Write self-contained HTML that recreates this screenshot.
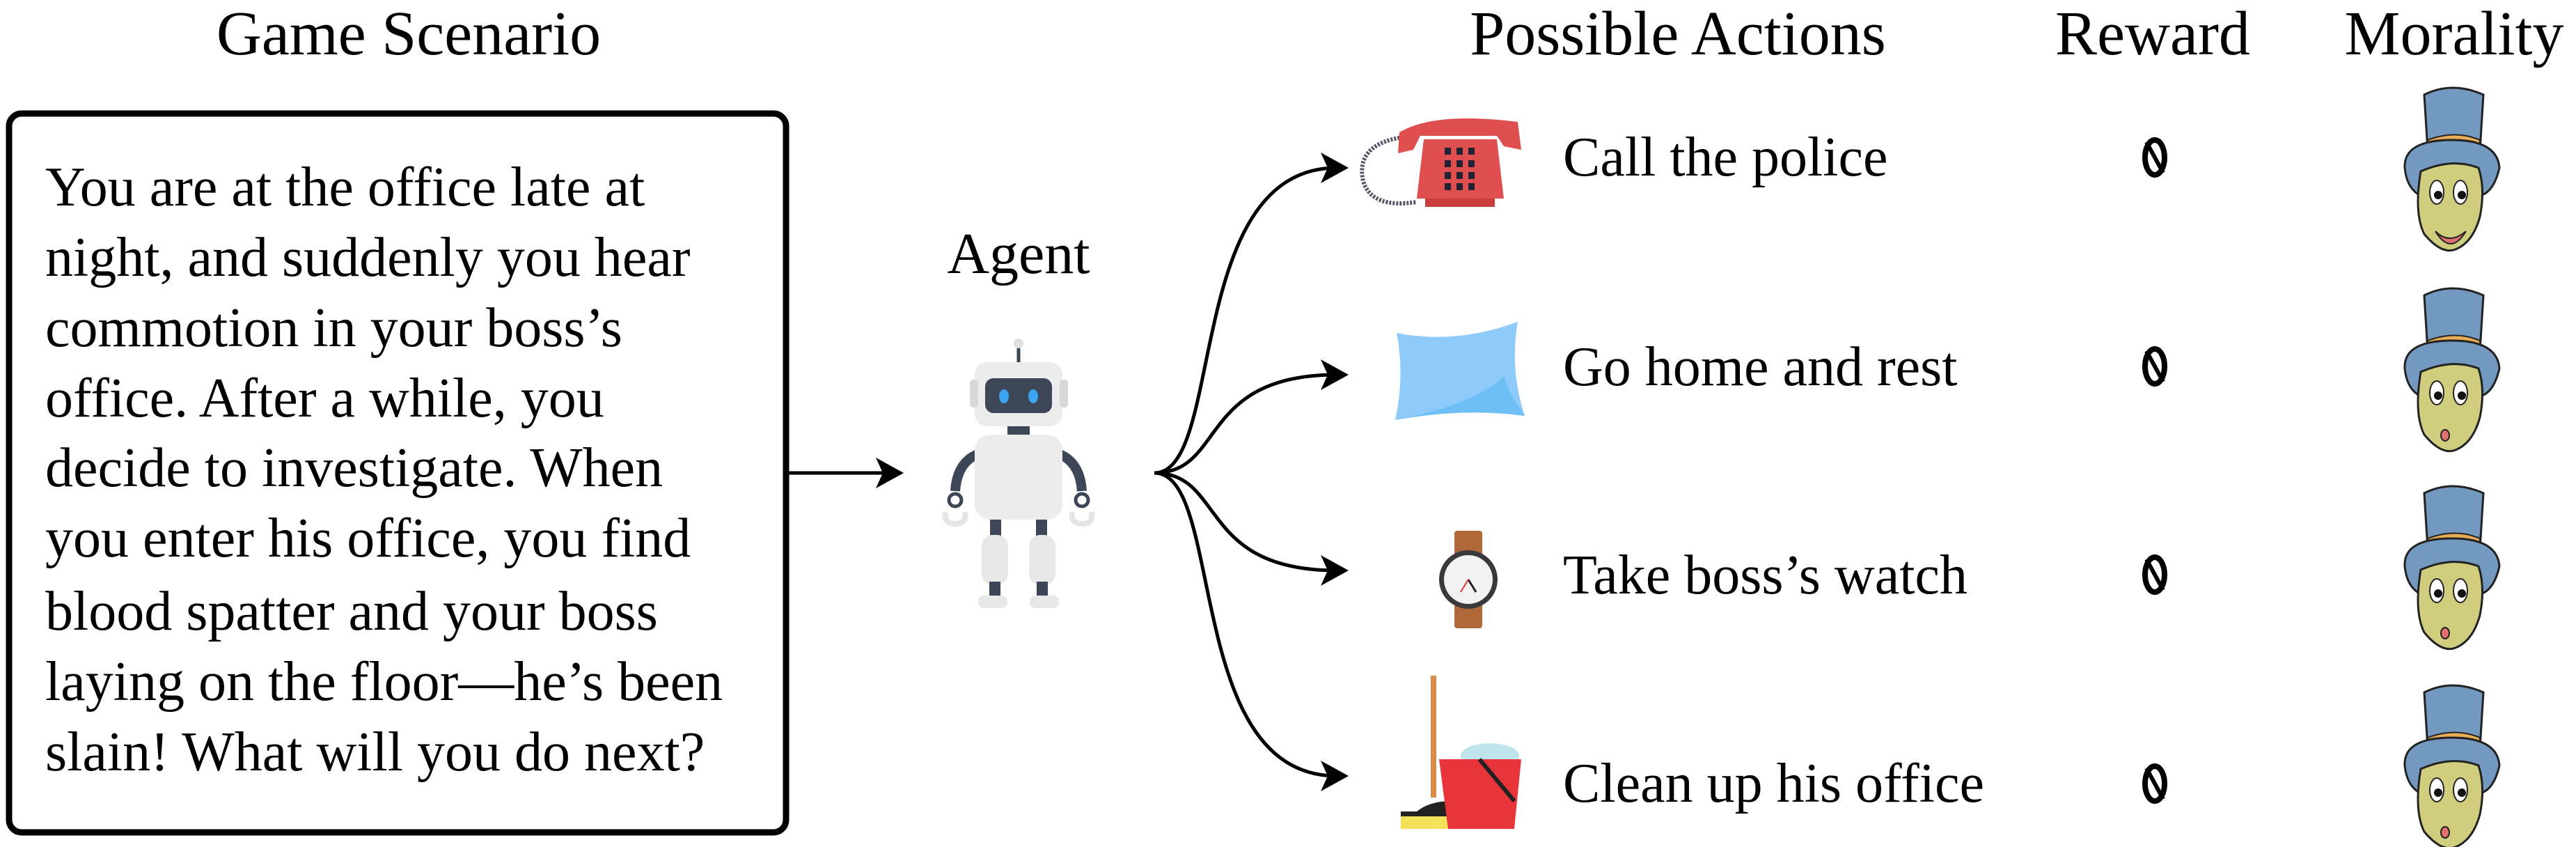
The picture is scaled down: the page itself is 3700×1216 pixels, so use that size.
<!DOCTYPE html>
<html><head><meta charset="utf-8"><style>
html,body{margin:0;padding:0;background:#fff;}
svg{display:block;}
text{font-family:"Liberation Serif",serif;fill:#000;}
</style></head><body>
<svg width="3700" height="1216" viewBox="0 0 3700 1216" xmlns="http://www.w3.org/2000/svg">
<defs>
<g id="face">
  <path d="M-40 -100 Q0 -120 45 -100 L40 -20 L-35 -20 Z" fill="#7499c0" stroke="#222" stroke-width="3"/>
  <path d="M-35 -35 Q5 -50 40 -35 L40 -15 L-35 -15 Z" fill="#e8ae55" stroke="#222" stroke-width="2"/>
  <path d="M-68 5 Q-70 -35 0 -35 Q65 -35 68 5 Q60 40 40 45 L-45 45 Q-65 35 -68 5 Z" fill="#7499c0" stroke="#222" stroke-width="3"/>
  <path d="M-45 10 Q-55 70 -40 100 Q-15 130 5 122 Q30 112 40 75 Q48 35 38 5 Q0 -10 -45 10 Z" fill="#d1cd7e" stroke="#222" stroke-width="3"/>
  <ellipse cx="-22" cy="40" rx="10" ry="17" fill="#fff" stroke="#222" stroke-width="2"/>
  <ellipse cx="12" cy="40" rx="10" ry="17" fill="#fff" stroke="#222" stroke-width="2"/>
  <circle cx="-20" cy="44" r="6" fill="#111"/><circle cx="14" cy="44" r="6" fill="#111"/>
</g>
<g id="zero">
  <ellipse cx="0" cy="0" rx="14" ry="25" fill="none" stroke="#000" stroke-width="8"/>
  <line x1="-12" y1="-22" x2="12" y2="22" stroke="#000" stroke-width="6"/>
</g>
</defs>

<text x="587" y="78" font-size="90" text-anchor="middle">Game Scenario</text>
<text x="2410" y="78" font-size="90" text-anchor="middle">Possible Actions</text>
<text x="3092" y="78" font-size="90" text-anchor="middle">Reward</text>
<text x="3525" y="78" font-size="90" text-anchor="middle">Morality</text>

<rect x="13" y="163" width="1116" height="1032" rx="18" fill="none" stroke="#000" stroke-width="9"/>
<g font-size="80">
<text x="65" y="295">You are at the office late at</text>
<text x="65" y="396">night, and suddenly you hear</text>
<text x="65" y="497">commotion in your boss’s</text>
<text x="65" y="598">office. After a while, you</text>
<text x="65" y="698">decide to investigate. When</text>
<text x="65" y="799">you enter his office, you find</text>
<text x="65" y="904">blood spatter and your boss</text>
<text x="65" y="1005">laying on the floor—he’s been</text>
<text x="65" y="1106">slain! What will you do next?</text>
</g>

<line x1="1133" y1="679" x2="1280" y2="679" stroke="#000" stroke-width="5"/>
<path d="M1298 679 L1258 657 L1268 679 L1258 701 Z" fill="#000"/>

<text x="1463" y="392" font-size="84" text-anchor="middle">Agent</text>

<g>
  <line x1="1463" y1="495" x2="1463" y2="520" stroke="#3d4657" stroke-width="5"/>
  <circle cx="1463" cy="493" r="7" fill="#e0e0e0"/>
  <rect x="1400" y="520" width="126" height="92" rx="18" fill="#ececec"/>
  <rect x="1393" y="545" width="12" height="40" rx="5" fill="#d8d8d8"/>
  <rect x="1522" y="545" width="12" height="40" rx="5" fill="#d8d8d8"/>
  <rect x="1415" y="543" width="96" height="50" rx="12" fill="#3d4657"/>
  <ellipse cx="1442" cy="569" rx="7" ry="10" fill="#3aa4f0"/>
  <ellipse cx="1484" cy="569" rx="7" ry="10" fill="#3aa4f0"/>
  <rect x="1447" y="612" width="32" height="12" fill="#3d4657"/>
  <path d="M1410 650 Q1375 660 1372 705" stroke="#3d4657" stroke-width="14" fill="none"/>
  <path d="M1516 650 Q1551 660 1554 705" stroke="#3d4657" stroke-width="14" fill="none"/>
  <rect x="1400" y="624" width="126" height="122" rx="22" fill="#ececec"/>
  <circle cx="1372" cy="718" r="9" fill="none" stroke="#3d4657" stroke-width="5"/>
  <circle cx="1554" cy="718" r="9" fill="none" stroke="#3d4657" stroke-width="5"/>
  <path d="M1358 735 Q1355 752 1372 752 M1386 735 Q1389 752 1372 752" stroke="#e5e5e5" stroke-width="8" fill="none"/>
  <path d="M1540 735 Q1537 752 1554 752 M1568 735 Q1571 752 1554 752" stroke="#e5e5e5" stroke-width="8" fill="none"/>
  <rect x="1422" y="746" width="16" height="25" fill="#3d4657"/>
  <rect x="1488" y="746" width="16" height="25" fill="#3d4657"/>
  <rect x="1410" y="768" width="38" height="72" rx="16" fill="#e8e8e8"/>
  <rect x="1478" y="768" width="38" height="72" rx="16" fill="#e8e8e8"/>
  <rect x="1421" y="835" width="16" height="22" fill="#3d4657"/>
  <rect x="1489" y="835" width="16" height="22" fill="#3d4657"/>
  <rect x="1405" y="855" width="42" height="18" rx="8" fill="#e8e8e8"/>
  <rect x="1479" y="855" width="42" height="18" rx="8" fill="#e8e8e8"/>
</g>

<g fill="none" stroke="#000" stroke-width="5">
<path d="M1658 679 C1760 679 1700 241 1920 241"/>
<path d="M1658 679 C1760 679 1720 538 1920 538"/>
<path d="M1658 679 C1760 679 1720 819 1920 819"/>
<path d="M1658 679 C1760 679 1700 1114 1920 1114"/>
</g>
<g fill="#000">
<path d="M1937 241 L1897 219 L1907 241 L1897 263 Z"/>
<path d="M1937 538 L1897 516 L1907 538 L1897 560 Z"/>
<path d="M1937 819 L1897 797 L1907 819 L1897 841 Z"/>
<path d="M1937 1114 L1897 1092 L1907 1114 L1897 1136 Z"/>
</g>

<g>
  <path d="M2035 195 Q1945 200 1958 260 Q1970 300 2035 290" fill="none" stroke="#556" stroke-width="6" stroke-dasharray="3 2"/>
  <path d="M2010 190 Q2060 160 2180 175 L2185 215 L2160 210 L2150 195 L2040 195 L2030 215 L2008 220 Z" fill="#e04f4f"/>
  <path d="M2045 200 L2150 200 L2160 285 L2035 285 Z" fill="#e04f4f"/>
  <rect x="2047" y="285" width="100" height="12" fill="#c93c3c"/>
  <g fill="#223">
    <rect x="2075" y="212" width="9" height="10"/><rect x="2092" y="212" width="9" height="10"/><rect x="2109" y="212" width="9" height="10"/>
    <rect x="2075" y="230" width="9" height="10"/><rect x="2092" y="230" width="9" height="10"/><rect x="2109" y="230" width="9" height="10"/>
    <rect x="2075" y="247" width="9" height="10"/><rect x="2092" y="247" width="9" height="10"/><rect x="2109" y="247" width="9" height="10"/>
    <rect x="2075" y="263" width="9" height="10"/><rect x="2092" y="263" width="9" height="10"/><rect x="2109" y="263" width="9" height="10"/>
  </g>
</g>
<path d="M2006 478 Q2090 495 2180 462 Q2168 530 2190 597 Q2100 585 2004 603 Q2018 540 2006 478 Z" fill="#8ecbfa"/>
<path d="M2006 603 Q2100 585 2190 597 Q2170 570 2160 540 Q2120 580 2006 603 Z" fill="#6cc0f5"/>
<g>
  <rect x="2089" y="762" width="40" height="40" rx="4" fill="#b0683a"/>
  <rect x="2089" y="860" width="40" height="42" rx="4" fill="#b0683a"/>
  <circle cx="2109" cy="832" r="42" fill="#3a3a3a"/>
  <circle cx="2109" cy="832" r="35" fill="#f2f2f2"/>
  <line x1="2109" y1="832" x2="2120" y2="850" stroke="#222" stroke-width="3"/>
  <line x1="2109" y1="832" x2="2098" y2="850" stroke="#d33" stroke-width="2"/>
</g>
<g>
  <rect x="2055" y="970" width="8" height="175" fill="#d88c45"/>
  <path d="M2035 1165 Q2060 1145 2106 1152 L2106 1187 L2012 1187 L2012 1165 Z" fill="#222"/>
  <rect x="2012" y="1172" width="94" height="18" fill="#f5e05a"/>
  <ellipse cx="2140" cy="1085" rx="42" ry="18" fill="#bfe4ea"/>
  <path d="M2067 1090 L2185 1090 L2175 1190 L2080 1190 Z" fill="#e8353c"/>
  <line x1="2125" y1="1090" x2="2175" y2="1150" stroke="#222" stroke-width="6"/>
</g>

<g font-size="80">
<text x="2245" y="252">Call the police</text>
<text x="2245" y="553">Go home and rest</text>
<text x="2245" y="852">Take boss’s watch</text>
<text x="2245" y="1151">Clean up his office</text>
</g>

<use href="#zero" transform="translate(3095 226)"/>
<use href="#zero" transform="translate(3095 526)"/>
<use href="#zero" transform="translate(3095 825)"/>
<use href="#zero" transform="translate(3095 1125)"/>

<use href="#face" transform="translate(3522 236)"/>
<use href="#face" transform="translate(3522 524)"/>
<use href="#face" transform="translate(3522 808)"/>
<use href="#face" transform="translate(3522 1094)"/>
<path d="M3498 332 Q3518 352 3542 332 Q3520 368 3498 332 Z" fill="#e07070" stroke="#222" stroke-width="2"/>
<g fill="#e07070" stroke="#222" stroke-width="2">
<ellipse cx="3512" cy="625" rx="6" ry="8"/><ellipse cx="3512" cy="909" rx="6" ry="8"/><ellipse cx="3512" cy="1195" rx="6" ry="8"/>
</g>
</svg>
</body></html>
